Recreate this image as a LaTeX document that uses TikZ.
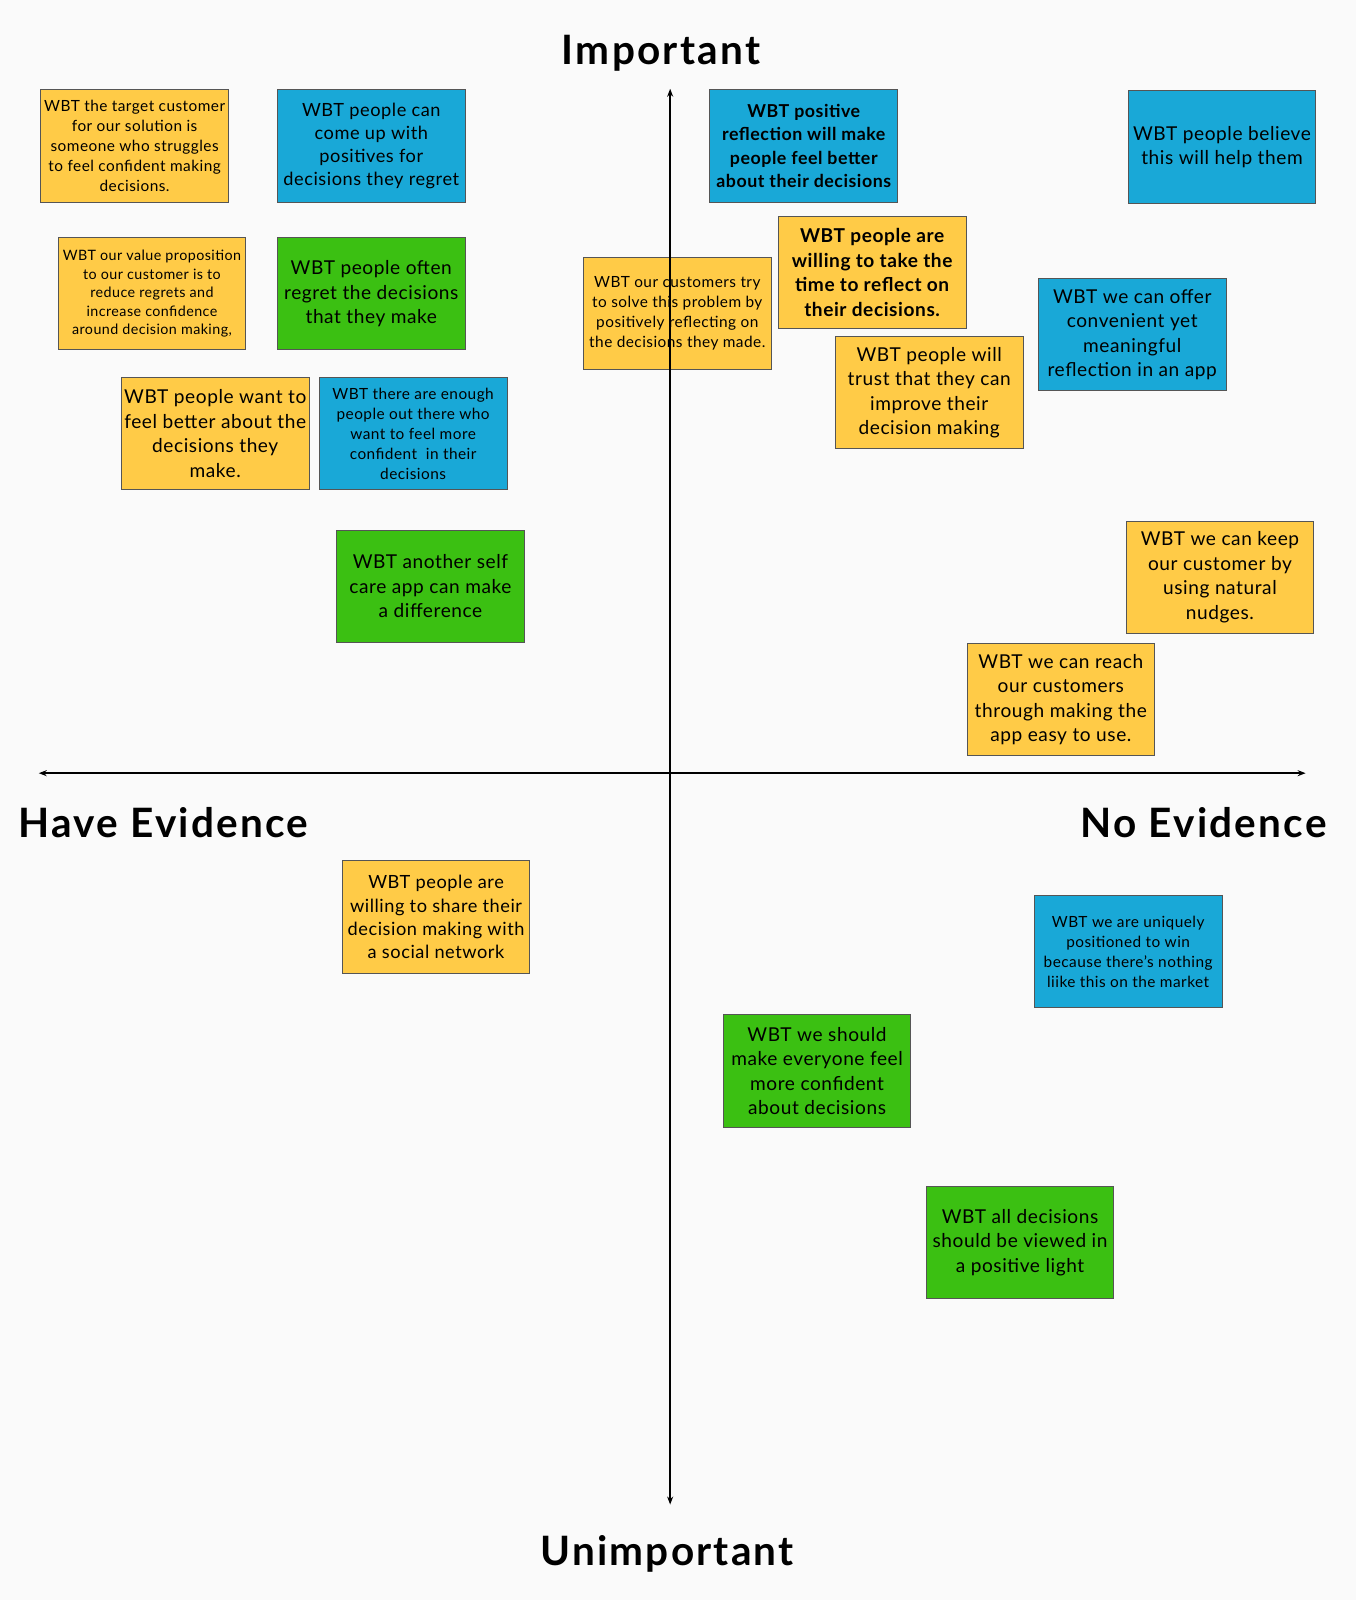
\documentclass[tikz,border=0pt]{standalone}
\usepackage{fontspec}
\setmainfont{Lato}[LetterSpace=3]
\newfontfamily\titlefont{Lato}[LetterSpace=5.5]
\usetikzlibrary{arrows.meta}
\definecolor{bgc}{HTML}{FAFAFA}
\definecolor{sy}{HTML}{FFCB47}
\definecolor{sb}{HTML}{19A8D7}
\definecolor{sg}{HTML}{3BC012}
\definecolor{edgec}{HTML}{555555}
\tikzset{
  sticky/.style={rectangle, draw=edgec, line width=0.9pt, minimum width=187.7pt, minimum height=112.2pt, inner sep=0pt, align=center, text=black},
  yel/.style={sticky, fill=sy},
  blu/.style={sticky, fill=sb},
  grn/.style={sticky, fill=sg},
  big/.style={font=\fontsize{19.1}{24.5}\selectfont},
  mid/.style={font=\fontsize{18.2}{23.2}\selectfont},
  small/.style={font=\fontsize{15.4}{20}\selectfont},
  tiny/.style={font=\fontsize{14.3}{18.6}\selectfont},
  bigb/.style={font=\fontsize{19.1}{24.5}\selectfont\bfseries},
  midb/.style={font=\fontsize{17.8}{23.2}\selectfont\bfseries},
  axis/.style={line width=1.7pt, black, {Stealth[length=8pt,width=6pt]}-{Stealth[length=8pt,width=6pt]}},
  title/.style={font=\titlefont\fontsize{40.5}{46}\selectfont\bfseries, inner sep=0pt}
}
\begin{document}
\begin{tikzpicture}[x=1.02pt,y=-1.02pt]
\fill[bgc] (0,0) rectangle (1329.4,1568.6);
\useasboundingbox (0,0) rectangle (1329.4,1568.6);

% left upper quadrant
\node[yel,small] (n1) at (132,143) {WBT the target customer\\for our solution is\\someone who struggles\\to feel confident making\\decisions.};
\node[blu,mid] (n2) at (364,143) {WBT people can\\come up with\\positives for\\decisions they regret};
\node[yel,tiny] (n3) at (149,288) {WBT our value proposition\\to our customer is to\\reduce regrets and\\increase confidence\\around decision making,};
\node[grn,big] (n4) at (364,288) {WBT people often\\regret the decisions\\that they make};
\node[yel,big] (n5) at (211,425) {WBT people want to\\feel better about the\\decisions they\\make.};
\node[blu,small] (n6) at (405,425) {WBT there are enough\\people out there who\\want to feel more\\confident\ \ in their\\decisions};
\node[grn,big] (n7) at (422,575) {WBT another self\\care app can make\\a difference};
\node[yel,small] (n8) at (664,307) {WBT our customers try\\to solve this problem by\\positively reflecting on\\the decisions they made.};

% right upper quadrant
\node[blu,midb] (n9) at (788,143) {WBT positive\\reflection will make\\people feel better\\about their decisions};
\node[yel,bigb] (n10) at (855,267) {WBT people are\\willing to take the\\time to reflect on\\their decisions.};
\node[yel,big] (n11) at (911,385) {WBT people will\\trust that they can\\improve their\\decision making};
\node[blu,big] (n12) at (1198,144) {WBT people believe\\this will help them};
\node[blu,big] (n13) at (1110,328) {WBT we can offer\\convenient yet\\meaningful\\reflection in an app};
\node[yel,big] (n14) at (1196,566) {WBT we can keep\\our customer by\\using natural\\nudges.};
\node[yel,big] (n15) at (1040,686) {WBT we can reach\\our customers\\through making the\\app easy to use.};

% lower quadrants
\node[yel,mid] (n16) at (427.5,899) {WBT people are\\willing to share their\\decision making with\\a social network};
\node[blu,small] (n17) at (1106,933) {WBT we are uniquely\\positioned to win\\because there's nothing\\liike this on the market};
\node[grn,big] (n18) at (801,1050) {WBT we should\\make everyone feel\\more confident\\about decisions};
\node[grn,big] (n19) at (1000,1218) {WBT all decisions\\should be viewed in\\a positive light};

% axes
\coordinate (top) at (657,87);
\coordinate (bot) at (657,1475);
\coordinate (lft) at (38,758);
\coordinate (rgt) at (1280,758);
\draw[axis] (lft) -- (rgt);
\draw[axis] (top) -- (bot);

% axis labels
\node[title] (imp) at (648,52) {Important};
\node[title] (unimp) at (654,1523) {Unimportant};
\node[title, anchor=west] (have) at (18,806) {Have Evidence};
\node[title, anchor=east] (noev) at (1301,806) {No Evidence};
\end{tikzpicture}
\end{document}
